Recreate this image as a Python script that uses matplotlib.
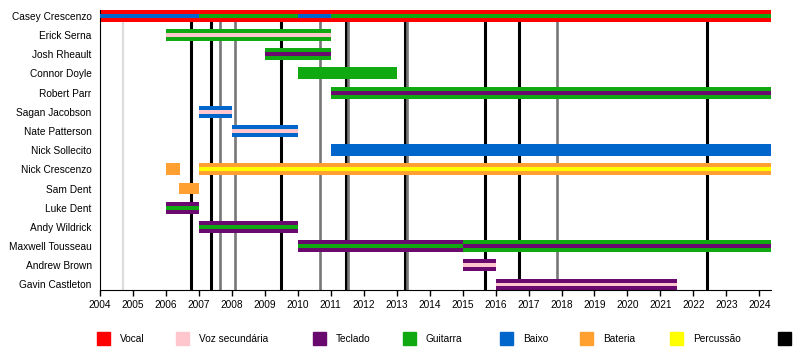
import matplotlib
matplotlib.use("Agg")
import matplotlib.pyplot as plt
from matplotlib.patches import Rectangle

plt.rcParams['font.family'] = ['Liberation Sans', 'DejaVu Sans']
plt.rcParams['font.size'] = 7.3

END = 2024.36

members = ["Casey Crescenzo", "Erick Serna", "Josh Rheault", "Connor Doyle",
           "Robert Parr", "Sagan Jacobson", "Nate Patterson", "Nick Sollecito",
           "Nick Crescenzo", "Sam Dent", "Luke Dent", "Andy Wildrick",
           "Maxwell Tousseau", "Andrew Brown", "Gavin Castleton"]

roles = ["Vocal", "Voz secundária", "Teclado", "Guitarra", "Baixo",
         "Bateria", "Percussão", ""]
role_colors = ["#ff0000", "#ffc6ce", "#6a0a6e", "#11a911",
               "#0066cc", "#ffa030", "#ffff00", "#000000"]
color_of = dict(zip(roles, role_colors))

# (member, start, end, role) - thick bars
main_bars = [
    ("Casey Crescenzo", 2004.0, END, "Vocal"),
    ("Erick Serna", 2006.0, 2011.0, "Guitarra"),
    ("Josh Rheault", 2009.0, 2011.0, "Guitarra"),
    ("Connor Doyle", 2010.0, 2013.0, "Guitarra"),
    ("Robert Parr", 2011.0, END, "Guitarra"),
    ("Sagan Jacobson", 2007.0, 2008.0, "Baixo"),
    ("Nate Patterson", 2008.0, 2010.0, "Baixo"),
    ("Nick Sollecito", 2011.0, END, "Baixo"),
    ("Nick Crescenzo", 2006.0, 2006.42, "Bateria"),
    ("Nick Crescenzo", 2007.0, END, "Bateria"),
    ("Sam Dent", 2006.4, 2007.0, "Bateria"),
    ("Luke Dent", 2006.0, 2007.0, "Teclado"),
    ("Andy Wildrick", 2007.0, 2010.0, "Teclado"),
    ("Maxwell Tousseau", 2010.0, 2015.0, "Teclado"),
    ("Maxwell Tousseau", 2015.0, END, "Guitarra"),
    ("Andrew Brown", 2015.0, 2016.0, "Teclado"),
    ("Gavin Castleton", 2016.0, 2021.5, "Teclado"),
]

# (member, start, end, role) - thin inner bars
inner_bars = [
    ("Casey Crescenzo", 2004.0, 2007.0, "Baixo"),
    ("Casey Crescenzo", 2007.0, 2010.0, "Guitarra"),
    ("Casey Crescenzo", 2010.0, 2011.0, "Baixo"),
    ("Casey Crescenzo", 2011.0, END, "Guitarra"),
    ("Erick Serna", 2006.0, 2011.0, "Voz secundária"),
    ("Josh Rheault", 2009.0, 2011.0, "Teclado"),
    ("Robert Parr", 2011.0, END, "Teclado"),
    ("Sagan Jacobson", 2007.0, 2008.0, "Voz secundária"),
    ("Nate Patterson", 2008.0, 2010.0, "Voz secundária"),
    ("Nick Crescenzo", 2007.0, END, "Percussão"),
    ("Luke Dent", 2006.0, 2007.0, "Guitarra"),
    ("Andy Wildrick", 2007.0, 2010.0, "Guitarra"),
    ("Maxwell Tousseau", 2010.0, 2015.0, "Guitarra"),
    ("Maxwell Tousseau", 2015.0, END, "Teclado"),
    ("Andrew Brown", 2015.0, 2016.0, "Voz secundária"),
    ("Gavin Castleton", 2016.0, 2021.5, "Voz secundária"),
]

# release dates (vertical lines)
albums = [2006.75, 2007.38, 2009.48, 2011.45, 2013.25, 2015.67, 2016.70, 2022.42]
others = [2007.65, 2008.09, 2010.67, 2011.52, 2013.32, 2017.85]
demos = [2004.70]

years = list(range(2004, 2025))

W, H = 800, 355
fig = plt.figure(figsize=(W / 100, H / 100), dpi=100)
ax = fig.add_axes([0.125, 0.183, 0.839, 0.789])

for x in demos:
    ax.axvline(x, color="#dddddd", lw=1.6, zorder=1)
for x in albums:
    ax.axvline(x, color="black", lw=2.2, zorder=1)
for x in others:
    ax.axvline(x, color="#777777", lw=1.9, zorder=1)

idx = {m: i for i, m in enumerate(members)}
for m, s, e, r in main_bars:
    ax.barh(idx[m], e - s, left=s, height=0.62, color=color_of[r], zorder=2)
for m, s, e, r in inner_bars:
    ax.barh(idx[m], e - s, left=s, height=0.2, color=color_of[r], zorder=3)

ax.set_xlim(2004, END)
ax.set_ylim(14.29, -0.31)
ax.set_yticks(range(len(members)), members)
ax.set_xticks(years)
ax.tick_params(axis='y', length=0, pad=6)
ax.tick_params(axis='x', length=4, width=1, pad=3)
ax.spines['top'].set_visible(False)
ax.spines['right'].set_visible(False)

# legend row (square left edges in pixels)
legend_x = [97, 176, 313, 403, 500, 580, 670, 778]
sq = 13
for lx, r, c in zip(legend_x, roles, role_colors):
    fig.add_artist(Rectangle((lx / W, (H - 345) / H), sq / W, sq / H,
                             color=c, transform=fig.transFigure))
    if r:
        fig.text((lx + sq + 10) / W, (H - 339) / H, r, va='center', ha='left')

fig.savefig("out.png", dpi=100)
